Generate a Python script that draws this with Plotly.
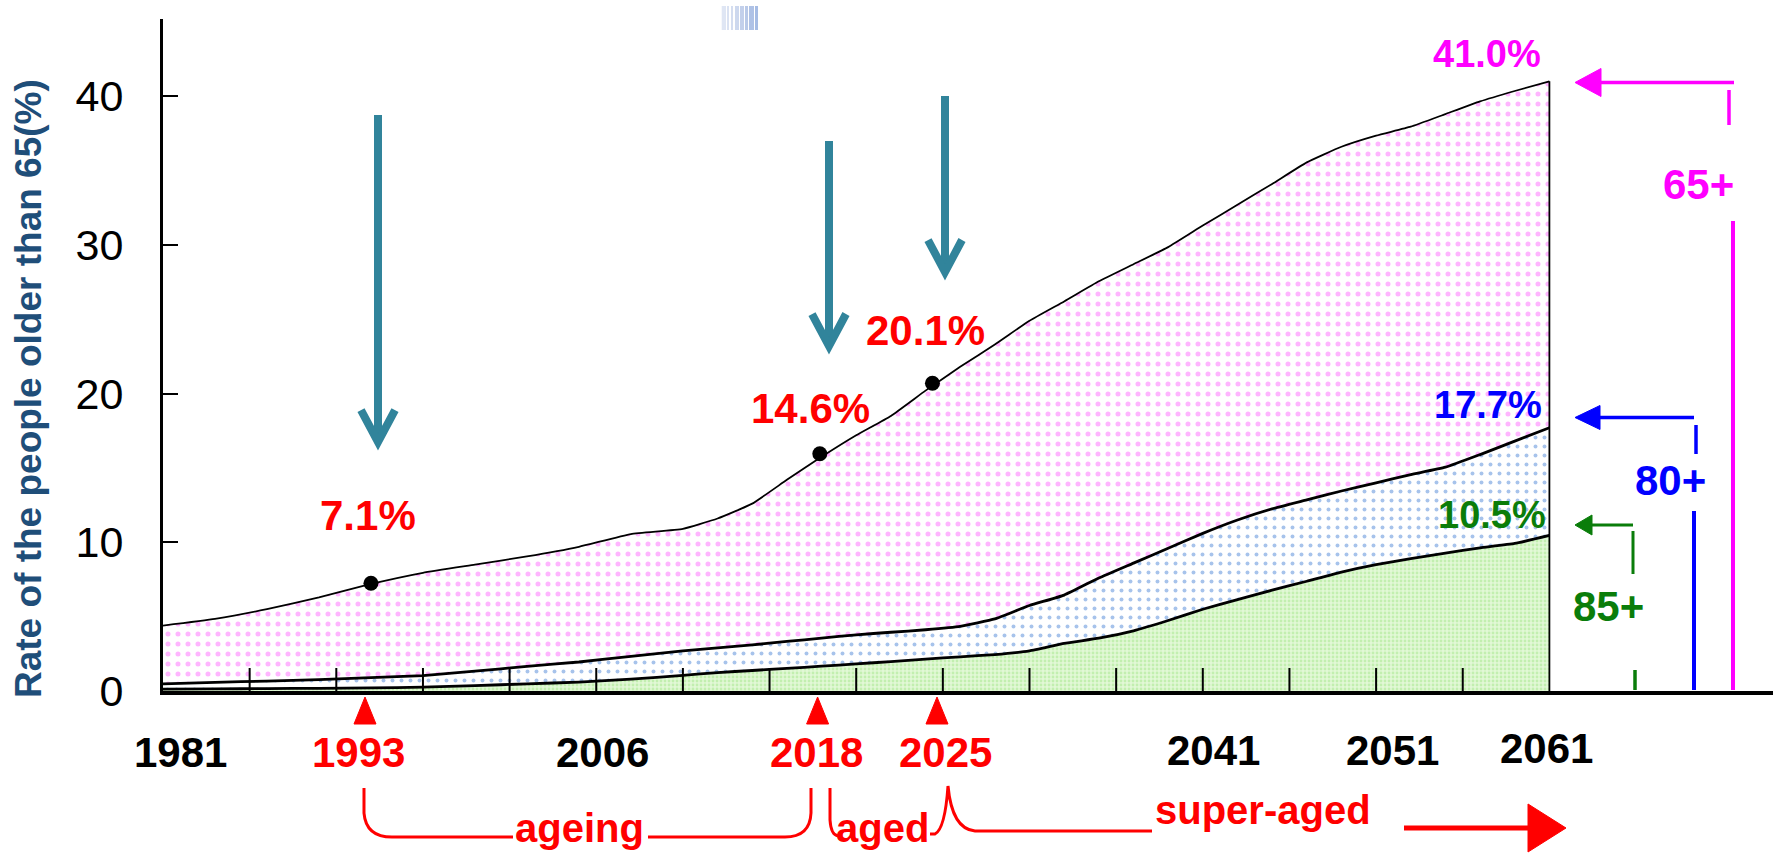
import plotly.graph_objects as go

# ---------------- data ----------------
years = [1981, 1984, 1987, 1990, 1993, 1996, 1999, 2002, 2005, 2008, 2011, 2013,
         2015, 2017, 2019, 2021, 2023, 2025, 2027, 2029, 2031, 2033, 2035, 2037,
         2039, 2041, 2043, 2045, 2047, 2049, 2051, 2053, 2055, 2057, 2059, 2061]
age65 = [4.4, 4.85, 5.5, 6.3, 7.2, 7.95, 8.5, 9.05, 9.7, 10.55, 10.9, 11.6,
         12.6, 14.2, 15.75, 17.2, 18.5, 20.2, 21.8, 23.3, 24.9, 26.2, 27.55, 28.7,
         29.85, 31.3, 32.7, 34.1, 35.55, 36.6, 37.35, 37.95, 38.8, 39.65, 40.35, 41.0]
age80 = [0.48, 0.58, 0.67, 0.77, 0.9, 1.04, 1.33, 1.66, 1.95, 2.33, 2.7, 2.9,
         3.1, 3.33, 3.55, 3.78, 3.95, 4.12, 4.35, 4.85, 5.75, 6.45, 7.6, 8.6,
         9.6, 10.6, 11.5, 12.25, 12.85, 13.45, 14.0, 14.55, 15.05, 15.9, 16.8, 17.7]
age85 = [0.12, 0.14, 0.16, 0.18, 0.21, 0.26, 0.36, 0.48, 0.6, 0.8, 1.05, 1.24,
         1.38, 1.52, 1.67, 1.82, 1.98, 2.15, 2.3, 2.45, 2.7, 3.2, 3.55, 4.05,
         4.74, 5.5, 6.15, 6.78, 7.38, 8.0, 8.5, 8.9, 9.28, 9.62, 9.92, 10.46]

dot_years = [1993.0, 2018.9, 2025.4]
dot_vals = [7.25, 15.95, 20.7]
dot_labels = ["7.1%", "14.6%", "20.1%"]

year_labels = [1981, 1993, 2006, 2018, 2025, 2041, 2051, 2061]
year_colors = ["black", "red", "black", "red", "red", "black", "black", "black"]
year_shift = [17, -12, 6, 12, 20, 11, 16, -3]

end_labels = ["41.0%", "17.7%", "10.5%"]
group_labels = ["65+", "80+", "85+"]
group_colors = ["#ff00ff", "#0000ff", "#0a7d0a"]
stage_labels = ["ageing", "aged", "super-aged"]

yticks = [0, 10, 20, 30, 40]
xticks = list(range(1986, 2061, 5))

# ---------------- geometry helpers ----------------
W, H = 1773, 853
ML, MT, PW, PH = 163, 19, 1610, 672
PX_PER_YEAR = 17.33
PX_PER_UNIT = 14.87
XMAX = 1981 + PW / PX_PER_YEAR
YMAX = PH / PX_PER_UNIT
TICK_UNITS = 23 / PX_PER_UNIT


def px(x):
    return (x - ML) / PW


def py(y):
    return (MT + PH - y) / PH


def P(x, y):
    return f"{px(x):.5f},{py(y):.5f}"


fig = go.Figure()

fig.add_trace(go.Scatter(
    x=years, y=age65, mode="lines",
    line=dict(color="black", width=1.8, shape="spline", smoothing=0.4),
    fill="tozeroy", fillcolor="white",
    fillpattern=dict(shape=".", fgcolor="#ff6cff", bgcolor="white", size=10, solidity=0.2),
    hoverinfo="skip", showlegend=False))
fig.add_trace(go.Scatter(
    x=years, y=age80, mode="lines",
    line=dict(color="black", width=2.8, shape="spline", smoothing=0.4),
    fill="tozeroy", fillcolor="white",
    fillpattern=dict(shape=".", fgcolor="#4f88d8", bgcolor="white", size=9, solidity=0.15),
    hoverinfo="skip", showlegend=False))
fig.add_trace(go.Scatter(
    x=years, y=age85, mode="lines",
    line=dict(color="black", width=2.8, shape="spline", smoothing=0.4),
    fill="tozeroy", fillcolor="#dff7d2",
    fillpattern=dict(shape=".", fgcolor="#a2e688", bgcolor="#e2f8d6", size=4, solidity=0.4),
    hoverinfo="skip", showlegend=False))
# right edge of the area
fig.add_trace(go.Scatter(
    x=[years[-1], years[-1]], y=[0, age65[-1]], mode="lines",
    line=dict(color="black", width=1.8), hoverinfo="skip", showlegend=False))
# x-axis ticks (drawn upward from the axis)
tx, ty = [], []
for t in xticks:
    tx += [t, t, None]
    ty += [0, TICK_UNITS, None]
fig.add_trace(go.Scatter(
    x=tx, y=ty, mode="lines", line=dict(color="black", width=2),
    hoverinfo="skip", showlegend=False))
# milestone dots
fig.add_trace(go.Scatter(
    x=dot_years, y=dot_vals, mode="markers",
    marker=dict(color="black", size=15), hoverinfo="skip", showlegend=False))

shapes = []
ann = []

# teal arrows
teal = "#31849b"
for x, top, tip in [(378, 115, 442), (829, 141, 346), (945, 96, 272)]:
    shapes.append(dict(type="line", xref="paper", yref="paper",
                       x0=px(x), y0=py(top), x1=px(x), y1=py(tip - 5),
                       line=dict(color=teal, width=8)))
    shapes.append(dict(type="path", xref="paper", yref="paper",
                       path=f"M {P(x - 17, tip - 32)} L {P(x, tip)} L {P(x + 17, tip - 32)}",
                       line=dict(color=teal, width=8)))

# red triangles under the axis
for x in [365, 817.6, 937]:
    shapes.append(dict(type="path", xref="paper", yref="paper",
                       path=f"M {P(x - 11, 724)} L {P(x, 697)} L {P(x + 11, 724)} Z",
                       fillcolor="red", line=dict(color="red", width=1)))

# brackets
red = "#ff0000"
brackets = [
    f"M {P(364, 788)} L {P(364, 813)} Q {P(366, 837)} {P(392, 837)} L {P(513, 837)}",
    f"M {P(648, 837)} L {P(785, 837)} Q {P(810, 837)} {P(811, 813)} L {P(811, 788)}",
    f"M {P(830, 788)} L {P(830, 820)} Q {P(831, 835)} {P(838, 836)}",
    f"M {P(930, 834)} L {P(935, 834)} Q {P(945, 829)} {P(948, 786)} Q {P(952, 829)} {P(975, 831)} L {P(1152, 831)}",
]
for pth in brackets:
    shapes.append(dict(type="path", xref="paper", yref="paper", path=pth,
                       line=dict(color=red, width=3)))
shapes.append(dict(type="line", xref="paper", yref="paper",
                   x0=px(1404), y0=py(828), x1=px(1532), y1=py(828),
                   line=dict(color=red, width=5)))
shapes.append(dict(type="path", xref="paper", yref="paper",
                   path=f"M {P(1528, 804)} L {P(1566, 828)} L {P(1528, 852)} Z",
                   fillcolor=red, line=dict(color=red, width=1)))

# right side arrows
right = [
    # colour, arrow y, head base x, head half, right end, short (x, y0, y1), long (x, y0, y1), width
    ("#ff00ff", 82.5, 1601, 14, 1734, (1729, 90, 125), (1733, 221, 690), 3.5),
    ("#0000ff", 417.5, 1600, 12, 1694, (1696, 425, 454), (1694, 511, 690), 3.5),
    ("#0a7d0a", 525, 1592, 10, 1633, (1633, 531, 574), (1635, 670, 690), 3),
]
for col, ay, hb, hh, rend, sh, lg, lw in right:
    shapes.append(dict(type="line", xref="paper", yref="paper",
                       x0=px(hb - 2), y0=py(ay), x1=px(rend), y1=py(ay),
                       line=dict(color=col, width=lw)))
    shapes.append(dict(type="path", xref="paper", yref="paper",
                       path=f"M {P(1575, ay)} L {P(hb, ay - hh)} L {P(hb, ay + hh)} Z",
                       fillcolor=col, line=dict(color=col, width=1)))
    shapes.append(dict(type="line", xref="paper", yref="paper",
                       x0=px(sh[0]), y0=py(sh[1]), x1=px(sh[0]), y1=py(sh[2]),
                       line=dict(color=col, width=lw)))
    shapes.append(dict(type="line", xref="paper", yref="paper",
                       x0=px(lg[0]), y0=py(lg[1]), x1=px(lg[0]), y1=py(lg[2]),
                       line=dict(color=col, width=lw + 0.5)))

# small gradient bars at the top
bar_l = [721.7, 727, 731, 735, 740, 745, 749, 755]
bar_r = [726, 729, 733, 739, 744, 748, 754, 758]
bar_c = ["#dfe6f4", "#dae2f2", "#d4ddf0", "#cdd8ee", "#c3d0eb", "#b9c9e8", "#afc2e6", "#a6bce4"]
for l, r, c in zip(bar_l, bar_r, bar_c):
    shapes.append(dict(type="rect", xref="paper", yref="paper",
                       x0=px(l), x1=px(r), y0=py(30), y1=py(6),
                       fillcolor=c, line=dict(width=0)))

FONT = "Liberation Sans"


def text(t, x, y, size, color, weight="bold", angle=0, family=FONT):
    ann.append(dict(text=t, xref="paper", yref="paper", x=px(x), y=py(y),
                    xanchor="center", yanchor="middle", showarrow=False, textangle=angle,
                    font=dict(family=family, size=size, color=color, weight=weight)))


# y title
text("Rate of the people older than 65(%)", 28, 389, 37, "#1f4e79", angle=-90)

# year labels under axis
for yr, col, sh in zip(year_labels, year_colors, year_shift):
    yy = 748 if yr == 2061 else (750 if yr in (2041, 2051) else 752)
    ann.append(dict(text=str(yr), xref="x", yref="paper", x=yr, xshift=sh, y=py(yy),
                    xanchor="center", yanchor="middle", showarrow=False,
                    font=dict(family=FONT, size=42, color=col, weight="bold")))

# milestone value labels
for t, (x, y) in zip(dot_labels, [(368, 515), (810, 409), (925, 330)]):
    text(t, x, y, 42, "red")

# end value labels and group labels
for t, col, (x, y) in zip(end_labels, group_colors, [(1487, 54), (1488, 405), (1492, 515)]):
    text(t, x, y, 38, col)
for t, col, (x, y) in zip(group_labels, group_colors, [(1698, 184), (1670, 480), (1608, 606)]):
    text(t, x, y, 42, col)

# stage labels
for t, (x, y) in zip(stage_labels, [(579, 828), (882, 828), (1263, 810)]):
    text(t, x, y, 40, red)

fig.update_layout(
    width=W, height=H, autosize=False,
    margin=dict(l=ML, r=W - ML - PW, t=MT, b=H - MT - PH, pad=0),
    paper_bgcolor="white", plot_bgcolor="white",
    shapes=shapes, annotations=ann, showlegend=False,
    xaxis=dict(range=[1981, XMAX], showgrid=False, zeroline=False, showline=True,
               linecolor="black", linewidth=3.5, ticks="", showticklabels=False,
               fixedrange=True),
    yaxis=dict(range=[0, YMAX], showgrid=False, zeroline=False, showline=True,
               linecolor="black", linewidth=3, ticks="inside", tickvals=yticks,
               ticklen=15, tickwidth=2, tickcolor="black",
               tickfont=dict(family=FONT, size=43, color="black"),
               ticklabelstandoff=28, fixedrange=True),
)

fig.write_html(
    "out.html",
    config={"displayModeBar": False, "staticPlot": True},
    post_script="document.body.style.margin='0';document.body.style.overflow='hidden';",
)
